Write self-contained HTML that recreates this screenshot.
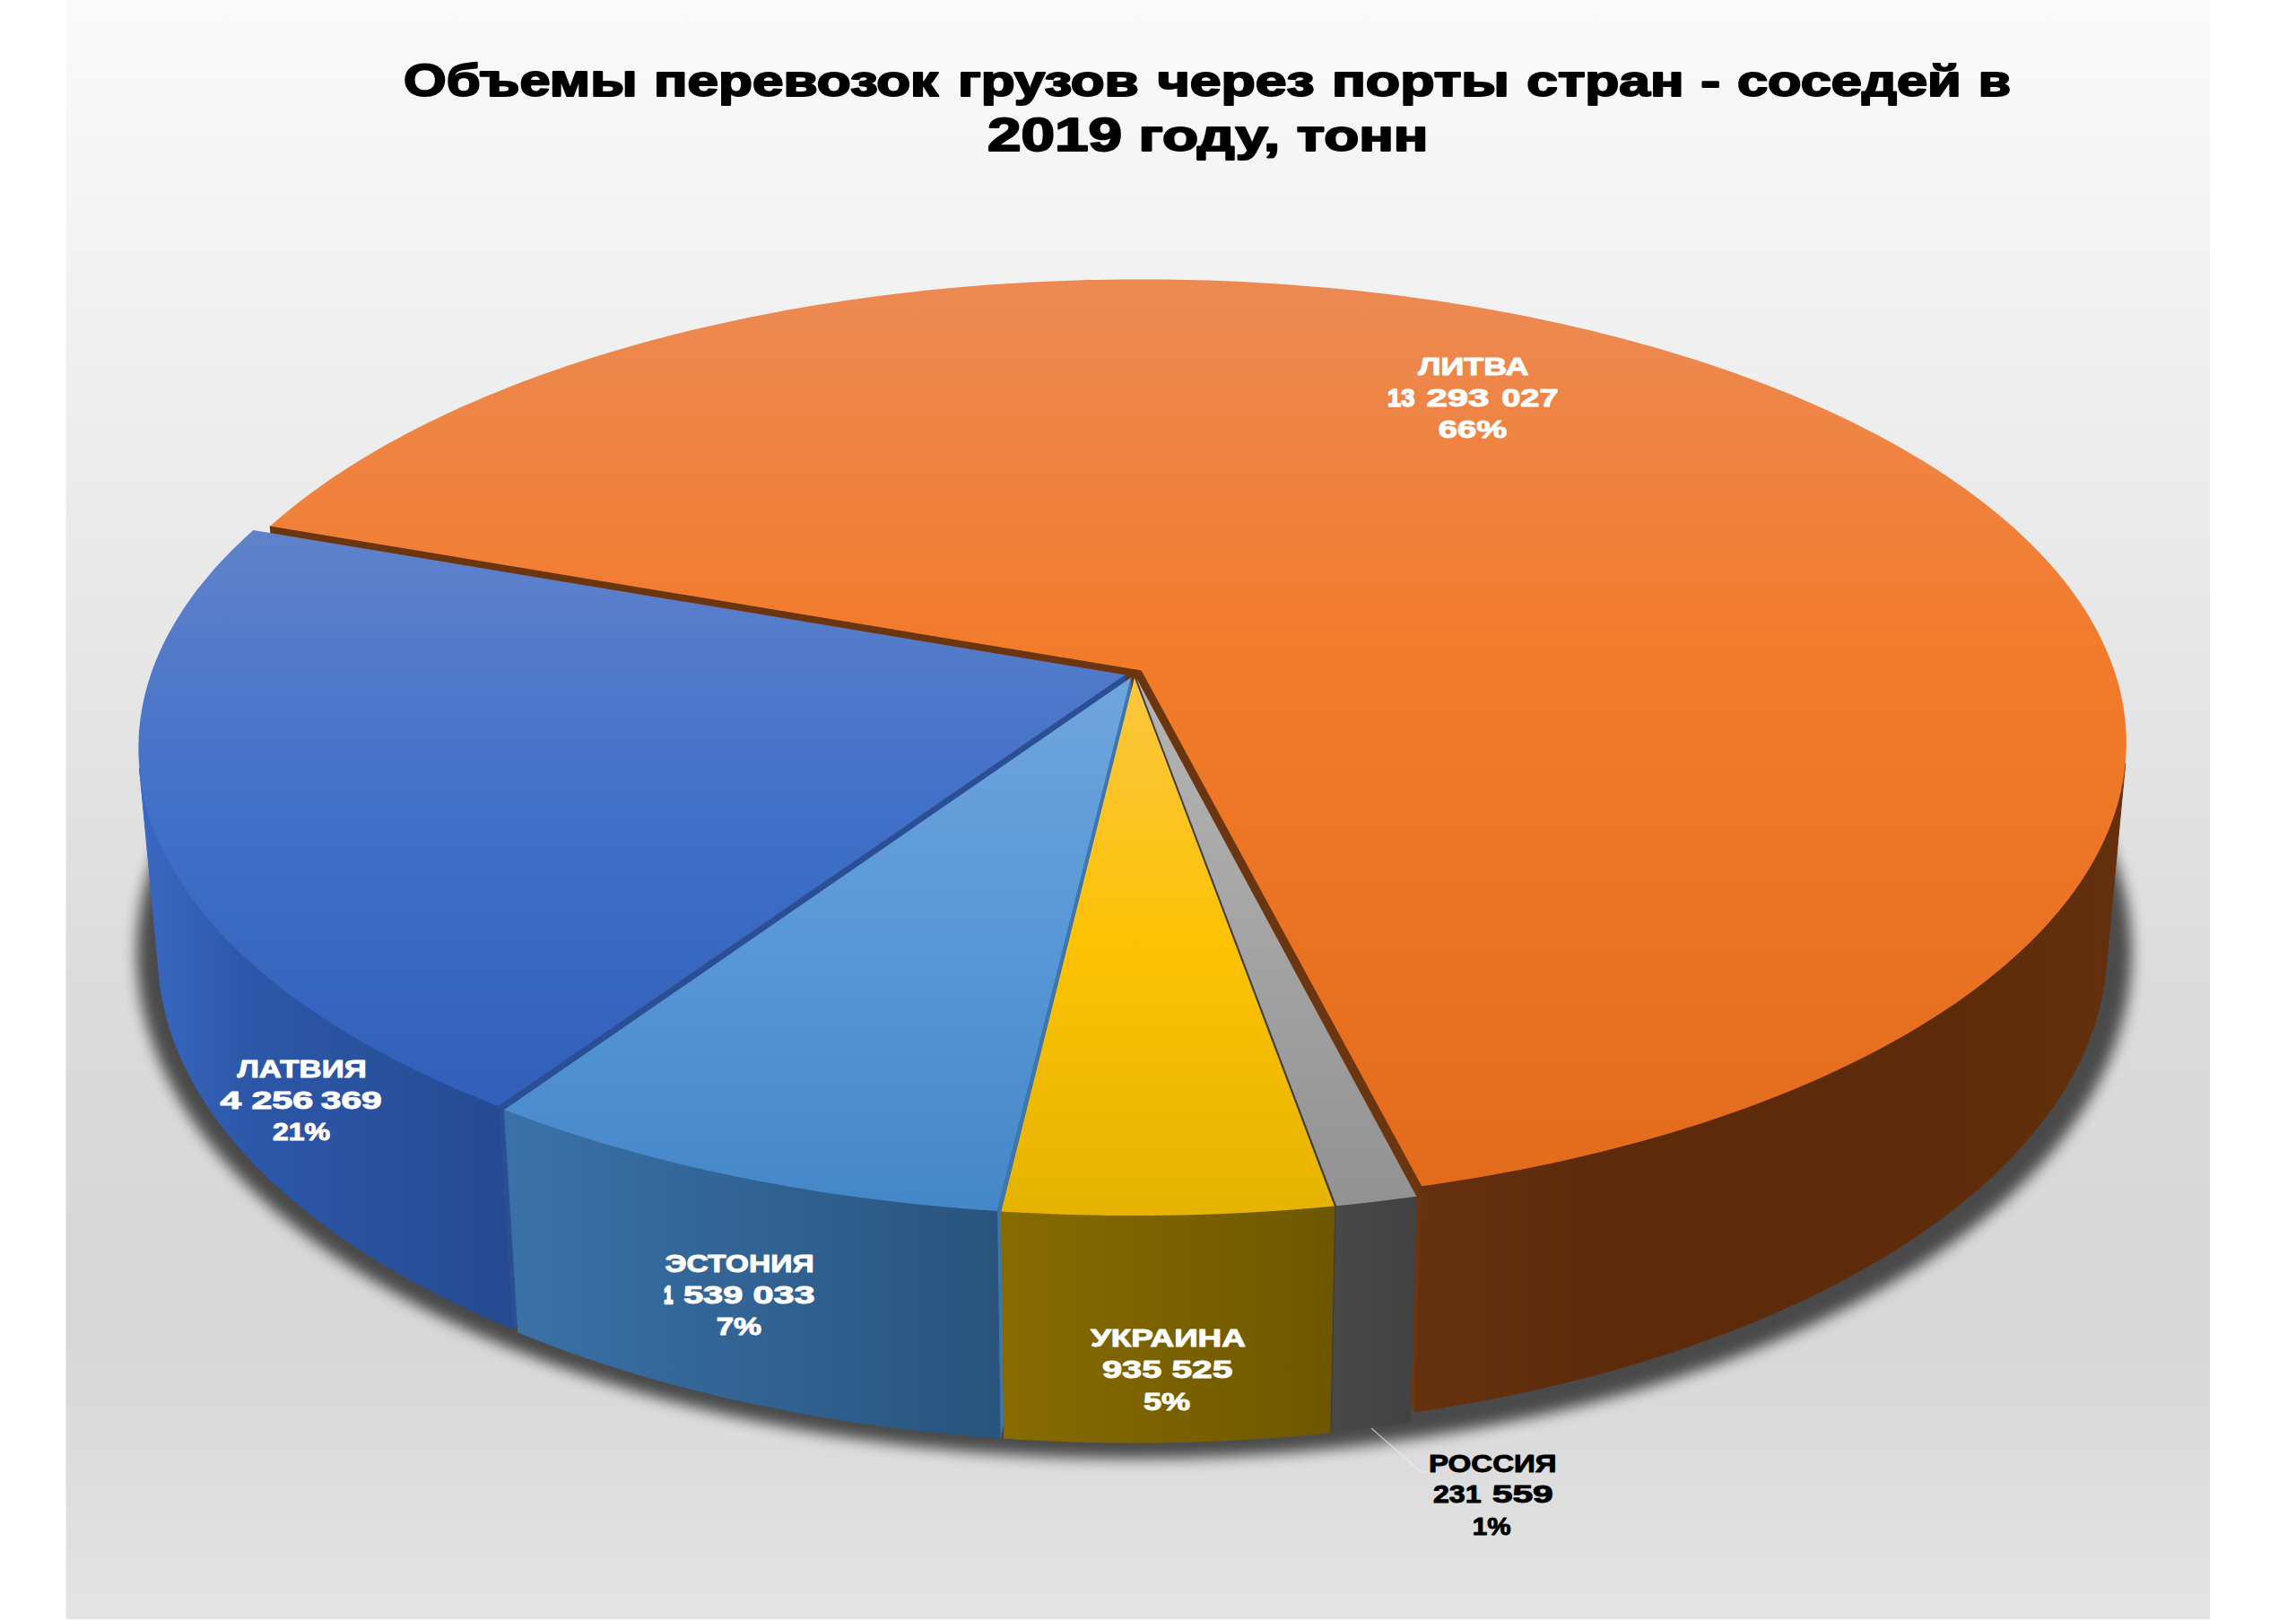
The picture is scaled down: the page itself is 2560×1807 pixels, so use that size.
<!DOCTYPE html>
<html lang="ru"><head><meta charset="utf-8"><title>Объемы перевозок грузов</title>
<style>
html,body{margin:0;padding:0;background:#fff;}
body{width:2560px;height:1807px;overflow:hidden;}
svg{display:block;}
text{font-family:"Liberation Sans",sans-serif;font-weight:bold;white-space:pre;}
</style></head><body>
<svg width="2560" height="1807" viewBox="0 0 2560 1807">
<defs>
<linearGradient id="bg" x1="0" y1="0" x2="0" y2="1"><stop offset="0" stop-color="#FAFAFA"/><stop offset="0.45" stop-color="#E4E4E4"/><stop offset="0.62" stop-color="#DBDBDB"/><stop offset="0.74" stop-color="#D8D8D8"/><stop offset="0.82" stop-color="#D7D7D7"/><stop offset="0.9" stop-color="#DCDCDC"/><stop offset="1" stop-color="#E4E4E4"/></linearGradient>
<linearGradient id="t_lith" gradientUnits="userSpaceOnUse" x1="0" y1="311.4" x2="0" y2="1322.2"><stop offset="0" stop-color="#EC8A54"/><stop offset="0.4" stop-color="#F27B2C"/><stop offset="1" stop-color="#E36B1C"/></linearGradient>
<linearGradient id="w_lith" gradientUnits="userSpaceOnUse" x1="1575.0" y1="0" x2="2372.0" y2="0"><stop offset="0" stop-color="#66310F"/><stop offset="0.3" stop-color="#5D2B0A"/><stop offset="0.75" stop-color="#5E2C0A"/><stop offset="1" stop-color="#64300D"/></linearGradient>
<linearGradient id="t_lat" gradientUnits="userSpaceOnUse" x1="0" y1="591.0" x2="0" y2="1233.0"><stop offset="0" stop-color="#6082CB"/><stop offset="0.5" stop-color="#4070C8"/><stop offset="1" stop-color="#315FB9"/></linearGradient>
<linearGradient id="w_lat" gradientUnits="userSpaceOnUse" x1="155.5" y1="0" x2="571.3" y2="0"><stop offset="0" stop-color="#3A69C2"/><stop offset="0.3" stop-color="#2C57A8"/><stop offset="1" stop-color="#254A92"/></linearGradient>
<linearGradient id="t_est" gradientUnits="userSpaceOnUse" x1="0" y1="755.4" x2="0" y2="1349.9"><stop offset="0" stop-color="#6FA5DD"/><stop offset="0.5" stop-color="#5897D8"/><stop offset="1" stop-color="#4487C9"/></linearGradient>
<linearGradient id="w_est" gradientUnits="userSpaceOnUse" x1="562.4" y1="0" x2="1115.0" y2="0"><stop offset="0" stop-color="#3A72A8"/><stop offset="1" stop-color="#28547E"/></linearGradient>
<linearGradient id="t_rus" gradientUnits="userSpaceOnUse" x1="0" y1="755.6" x2="0" y2="1344.2"><stop offset="0" stop-color="#B4B4B4"/><stop offset="0.5" stop-color="#A4A4A4"/><stop offset="1" stop-color="#929292"/></linearGradient>
<linearGradient id="w_rus" gradientUnits="userSpaceOnUse" x1="1485.0" y1="0" x2="1579.4" y2="0"><stop offset="0" stop-color="#484848"/><stop offset="1" stop-color="#424242"/></linearGradient>
<linearGradient id="t_ukr" gradientUnits="userSpaceOnUse" x1="0" y1="755.7" x2="0" y2="1355.1"><stop offset="0" stop-color="#FBC640"/><stop offset="0.5" stop-color="#FDC204"/><stop offset="1" stop-color="#E5B300"/></linearGradient>
<linearGradient id="w_ukr" gradientUnits="userSpaceOnUse" x1="1116.4" y1="0" x2="1487.8" y2="0"><stop offset="0" stop-color="#866C00"/><stop offset="1" stop-color="#6E5700"/></linearGradient>
<filter id="blur" x="-5%" y="-10%" width="110%" height="120%"><feGaussianBlur stdDeviation="8"/></filter>
</defs>
<rect x="0" y="0" width="2560" height="1807" fill="#fff"/>
<rect x="73.5" y="0" width="2390.5" height="1805" fill="url(#bg)"/>
<g filter="url(#blur)" opacity="0.66"><polygon points="2346.8,976.3 2344.0,967.9 2341.0,959.6 2337.8,951.3 2334.3,943.0 2330.5,934.8 2326.5,926.6 2322.3,918.5 2317.8,910.4 2313.1,902.4 2308.2,894.5 2303.0,886.6 2297.7,878.7 2292.0,871.0 2286.2,863.2 2280.2,855.6 2273.9,848.0 2267.4,840.5 2260.7,833.0 2253.8,825.6 2246.7,818.3 2239.4,811.0 2232.0,803.8 2224.3,796.7 2216.4,789.7 2208.3,782.7 2200.0,775.8 2191.6,769.0 2183.0,762.2 2174.2,755.6 2165.2,749.0 2156.1,742.5 2146.7,736.1 2137.3,729.7 2127.6,723.4 2117.8,717.3 2107.8,711.2 2097.7,705.1 2087.4,699.2 2077.0,693.4 2066.4,687.6 2055.7,681.9 2044.9,676.3 2033.9,670.8 2022.8,665.4 2011.5,660.1 2000.1,654.9 1988.6,649.7 1976.9,644.7 1965.2,639.7 1953.3,634.8 1941.3,630.0 1929.1,625.3 1916.9,620.7 1904.6,616.2 1892.1,611.8 1879.6,607.5 1866.9,603.3 1854.2,599.1 1841.3,595.1 1828.4,591.1 1815.3,587.3 1802.2,583.5 1789.0,579.9 1775.7,576.3 1762.3,572.8 1748.9,569.4 1735.3,566.2 1721.7,563.0 1708.0,559.9 1694.3,556.9 1680.5,554.0 1666.6,551.2 1652.6,548.5 1638.6,545.9 1624.6,543.4 1610.5,541.0 1596.3,538.7 1582.1,536.5 1567.8,534.4 1553.5,532.4 1539.1,530.5 1524.7,528.7 1510.3,527.0 1495.8,525.4 1481.3,523.8 1466.8,522.4 1452.2,521.1 1437.6,519.9 1422.9,518.8 1408.3,517.7 1393.6,516.8 1378.9,516.0 1364.2,515.3 1349.5,514.7 1334.7,514.1 1320.0,513.7 1305.2,513.4 1290.5,513.2 1275.7,513.0 1260.9,513.0 1246.2,513.1 1231.4,513.3 1216.6,513.5 1201.9,513.9 1187.1,514.4 1172.4,515.0 1157.7,515.6 1143.0,516.4 1128.3,517.3 1113.6,518.2 1099.0,519.3 1084.4,520.5 1069.8,521.8 1055.2,523.1 1040.7,524.6 1026.2,526.2 1011.7,527.8 997.3,529.6 982.9,531.4 968.6,533.4 954.3,535.5 940.1,537.6 925.9,539.9 911.7,542.2 897.6,544.7 883.6,547.2 869.6,549.9 855.7,552.6 841.9,555.5 828.1,558.4 814.4,561.4 800.7,564.6 787.2,567.8 773.7,571.1 760.2,574.5 746.9,578.1 733.6,581.7 720.5,585.4 707.4,589.2 694.4,593.1 681.5,597.1 668.7,601.2 656.0,605.4 643.4,609.6 630.9,614.0 618.5,618.5 606.2,623.0 594.0,627.7 582.0,632.4 570.0,637.2 558.2,642.2 546.5,647.2 534.9,652.3 523.4,657.5 512.1,662.7 500.9,668.1 489.9,673.6 478.9,679.1 468.1,684.8 457.5,690.5 447.0,696.3 436.7,702.2 426.5,708.1 416.4,714.2 406.5,720.3 396.8,726.6 387.2,732.9 377.8,739.3 368.6,745.7 359.5,752.3 350.6,758.9 341.9,765.6 333.4,772.4 325.1,779.2 316.9,786.2 308.9,793.2 301.1,800.3 293.5,807.4 286.1,814.6 278.9,821.9 271.9,829.3 265.2,836.7 258.6,844.2 252.2,851.8 246.0,859.4 240.1,867.1 234.4,874.8 228.9,882.7 223.6,890.5 218.6,898.5 213.7,906.4 209.2,914.5 204.8,922.6 200.7,930.7 196.8,938.9 193.2,947.1 189.8,955.4 186.7,963.8 183.8,972.1 181.2,980.6 178.9,989.0 176.7,997.5 174.9,1006.0 173.3,1014.6 172.0,1023.2 171.0,1031.8 170.2,1040.5 169.7,1049.2 169.5,1057.9 169.5,1066.6 169.9,1075.4 170.5,1084.1 171.4,1092.9 172.6,1101.7 174.0,1110.5 175.8,1119.3 177.8,1128.2 180.2,1137.0 182.8,1145.8 185.8,1154.6 189.0,1163.5 192.5,1172.3 196.3,1181.1 200.5,1189.9 204.9,1198.6 209.6,1207.4 214.6,1216.2 220.0,1224.9 225.6,1233.6 231.5,1242.2 237.8,1250.9 244.3,1259.5 251.1,1268.0 258.3,1276.6 265.8,1285.0 273.5,1293.5 281.6,1301.9 289.9,1310.2 298.6,1318.5 307.6,1326.7 316.8,1334.9 326.4,1343.0 336.3,1351.0 346.4,1359.0 356.9,1366.9 367.7,1374.7 378.7,1382.4 390.0,1390.1 401.7,1397.7 413.6,1405.1 425.7,1412.5 438.2,1419.8 451.0,1427.0 464.0,1434.1 477.3,1441.1 490.8,1448.0 504.7,1454.8 518.8,1461.5 533.1,1468.0 547.7,1474.4 562.6,1480.8 577.7,1487.0 593.0,1493.0 608.6,1499.0 624.4,1504.8 640.4,1510.4 656.7,1516.0 673.2,1521.4 689.9,1526.6 706.8,1531.7 723.9,1536.7 741.2,1541.5 758.7,1546.1 776.4,1550.6 794.2,1555.0 812.3,1559.2 830.5,1563.2 848.8,1567.1 867.4,1570.8 886.0,1574.3 904.8,1577.7 923.8,1580.9 942.9,1583.9 962.0,1586.8 981.4,1589.4 1000.8,1591.9 1020.3,1594.3 1039.9,1596.4 1059.6,1598.4 1079.4,1600.2 1099.2,1601.8 1119.1,1603.2 1139.1,1604.5 1159.1,1605.5 1179.1,1606.4 1199.2,1607.1 1219.3,1607.6 1239.5,1607.9 1259.6,1608.1 1279.7,1608.0 1299.9,1607.8 1320.0,1607.4 1340.1,1606.8 1360.1,1606.0 1380.2,1605.0 1400.2,1603.9 1420.1,1602.5 1440.0,1601.0 1459.8,1599.3 1479.5,1597.4 1499.2,1595.4 1518.7,1593.1 1538.2,1590.7 1557.6,1588.1 1576.8,1585.4 1596.0,1582.4 1615.0,1579.3 1633.8,1576.0 1652.6,1572.6 1671.2,1568.9 1689.6,1565.2 1707.9,1561.2 1726.0,1557.1 1744.0,1552.8 1761.7,1548.4 1779.3,1543.8 1796.7,1539.1 1813.9,1534.2 1831.0,1529.2 1847.8,1524.0 1864.3,1518.7 1880.7,1513.2 1896.9,1507.6 1912.8,1501.9 1928.5,1496.0 1944.0,1490.0 1959.2,1483.9 1974.2,1477.6 1988.9,1471.2 2003.4,1464.8 2017.6,1458.1 2031.5,1451.4 2045.2,1444.6 2058.7,1437.6 2071.8,1430.6 2084.7,1423.4 2097.3,1416.2 2109.6,1408.8 2121.7,1401.4 2133.4,1393.9 2144.9,1386.3 2156.1,1378.6 2167.0,1370.8 2177.6,1362.9 2187.9,1355.0 2197.9,1347.0 2207.7,1338.9 2217.1,1330.8 2226.2,1322.6 2235.0,1314.4 2243.5,1306.0 2251.7,1297.7 2259.7,1289.3 2267.3,1280.8 2274.6,1272.3 2281.6,1263.8 2288.3,1255.2 2294.7,1246.6 2300.7,1237.9 2306.5,1229.2 2312.0,1220.5 2317.2,1211.8 2322.1,1203.0 2326.6,1194.3 2330.9,1185.5 2334.9,1176.7 2338.5,1167.9 2341.9,1159.0 2345.0,1150.2 2347.8,1141.4 2350.3,1132.6 2352.5,1123.7 2354.4,1114.9 2356.0,1106.1 2357.3,1097.3 2358.4,1088.5 2359.1,1079.7 2359.6,1071.0 2359.8,1062.2 2359.7,1053.5 2359.3,1044.8 2358.7,1036.2 2357.8,1027.5 2356.6,1018.9 2355.2,1010.3 2353.5,1001.8 2351.5,993.3 2349.2,984.8 2346.8,976.3" fill="#000" stroke="#000" stroke-width="34" stroke-linejoin="round" transform="translate(0,1)"/></g>
<polygon points="1272.6,747.4 301.2,586.5 318.7,803.9 1272.5,972.8" fill="#6B350F" stroke="#6B350F" stroke-width="1" stroke-linejoin="round"/>
<polygon points="1272.6,747.4 1585.2,1322.2 1578.0,1573.8 1272.5,972.8" fill="#6B350F" stroke="#6B350F" stroke-width="1" stroke-linejoin="round"/>
<polygon points="1585.2,1322.2 1601.3,1319.9 1617.4,1317.5 1633.3,1314.9 1649.2,1312.3 1665.0,1309.5 1680.6,1306.6 1696.2,1303.7 1711.6,1300.6 1727.0,1297.4 1742.2,1294.1 1757.3,1290.7 1772.2,1287.1 1787.1,1283.5 1801.8,1279.8 1816.3,1276.0 1830.7,1272.1 1845.0,1268.0 1859.2,1263.9 1873.1,1259.7 1887.0,1255.4 1900.6,1251.0 1914.1,1246.5 1927.5,1241.9 1940.7,1237.3 1953.7,1232.5 1966.5,1227.7 1979.2,1222.8 1991.7,1217.8 2004.0,1212.7 2016.2,1207.5 2028.1,1202.3 2039.9,1196.9 2051.5,1191.6 2062.9,1186.1 2074.1,1180.6 2085.1,1175.0 2096.0,1169.3 2106.6,1163.6 2117.0,1157.8 2127.2,1151.9 2137.3,1146.0 2147.1,1140.0 2156.7,1133.9 2166.2,1127.9 2175.4,1121.7 2184.4,1115.5 2193.2,1109.3 2201.8,1103.0 2210.1,1096.6 2218.3,1090.2 2226.3,1083.8 2234.0,1077.3 2241.5,1070.8 2248.9,1064.2 2256.0,1057.7 2262.8,1051.0 2269.5,1044.4 2276.0,1037.7 2282.2,1031.0 2288.3,1024.2 2294.1,1017.4 2299.7,1010.6 2305.1,1003.8 2310.2,997.0 2315.2,990.1 2319.9,983.2 2324.4,976.3 2328.7,969.4 2332.8,962.5 2336.7,955.5 2340.4,948.6 2343.8,941.6 2347.1,934.7 2350.1,927.7 2352.9,920.7 2355.5,913.7 2357.9,906.7 2360.1,899.7 2362.1,892.8 2363.9,885.8 2365.5,878.8 2366.8,871.8 2368.0,864.8 2369.0,857.9 2369.7,850.9 2348.0,1081.4 2347.2,1088.7 2346.2,1096.0 2345.0,1103.3 2343.6,1110.6 2342.0,1117.9 2340.2,1125.2 2338.3,1132.5 2336.1,1139.8 2333.7,1147.2 2331.1,1154.5 2328.3,1161.8 2325.2,1169.1 2322.0,1176.4 2318.6,1183.7 2315.0,1190.9 2311.1,1198.2 2307.1,1205.4 2302.8,1212.7 2298.3,1219.9 2293.6,1227.1 2288.7,1234.3 2283.6,1241.4 2278.3,1248.6 2272.8,1255.7 2267.1,1262.8 2261.1,1269.8 2255.0,1276.8 2248.6,1283.8 2242.0,1290.8 2235.3,1297.7 2228.3,1304.6 2221.1,1311.5 2213.6,1318.3 2206.0,1325.0 2198.2,1331.8 2190.2,1338.4 2181.9,1345.1 2173.5,1351.6 2164.9,1358.2 2156.0,1364.6 2147.0,1371.1 2137.7,1377.4 2128.3,1383.7 2118.6,1390.0 2108.8,1396.2 2098.7,1402.3 2088.5,1408.3 2078.1,1414.3 2067.4,1420.2 2056.6,1426.1 2045.6,1431.9 2034.5,1437.6 2023.1,1443.2 2011.6,1448.7 1999.8,1454.2 1987.9,1459.6 1975.9,1464.9 1963.6,1470.1 1951.2,1475.3 1938.6,1480.3 1925.9,1485.3 1912.9,1490.1 1899.9,1494.9 1886.6,1499.6 1873.3,1504.2 1859.7,1508.7 1846.0,1513.1 1832.2,1517.4 1818.2,1521.5 1804.1,1525.6 1789.9,1529.6 1775.5,1533.5 1761.0,1537.3 1746.3,1540.9 1731.6,1544.5 1716.7,1547.9 1701.7,1551.3 1686.6,1554.5 1671.4,1557.6 1656.0,1560.6 1640.6,1563.5 1625.1,1566.2 1609.5,1568.9 1593.8,1571.4 1578.0,1573.8" fill="url(#w_lith)" stroke="url(#w_lith)" stroke-width="1" stroke-linejoin="round"/>
<polygon points="1272.6,747.4 301.2,586.5 307.5,580.9 314.0,575.4 320.7,569.9 327.4,564.4 334.3,559.1 341.3,553.7 348.4,548.4 355.7,543.2 363.1,538.0 370.5,532.8 378.2,527.7 385.9,522.7 393.7,517.7 401.7,512.8 409.8,507.9 418.0,503.1 426.3,498.3 434.7,493.6 443.2,488.9 451.8,484.3 460.5,479.8 469.3,475.3 478.2,470.8 487.3,466.4 496.4,462.1 505.6,457.8 514.9,453.6 524.3,449.5 533.7,445.4 543.3,441.3 553.0,437.4 562.7,433.4 572.5,429.6 582.4,425.8 592.4,422.0 602.5,418.3 612.6,414.7 622.9,411.2 633.2,407.6 643.5,404.2 654.0,400.8 664.5,397.5 675.1,394.2 685.7,391.0 696.4,387.9 707.2,384.8 718.1,381.8 729.0,378.8 739.9,375.9 750.9,373.1 762.0,370.3 773.2,367.6 784.4,365.0 795.6,362.4 806.9,359.9 818.3,357.4 829.7,355.0 841.1,352.7 852.6,350.5 864.1,348.2 875.7,346.1 887.3,344.0 899.0,342.0 910.7,340.1 922.4,338.2 934.2,336.4 946.0,334.6 957.9,332.9 969.8,331.3 981.7,329.7 993.6,328.2 1005.6,326.8 1017.6,325.4 1029.6,324.1 1041.7,322.8 1053.8,321.7 1065.9,320.5 1078.0,319.5 1090.1,318.5 1102.3,317.6 1114.5,316.7 1126.7,315.9 1138.9,315.2 1151.1,314.5 1163.3,313.9 1175.6,313.4 1187.8,312.9 1200.1,312.5 1212.4,312.1 1224.7,311.9 1237.0,311.7 1249.2,311.5 1261.5,311.4 1273.8,311.4 1286.1,311.4 1298.4,311.6 1310.7,311.7 1323.0,312.0 1335.3,312.3 1347.5,312.6 1359.8,313.1 1372.1,313.6 1384.3,314.1 1396.5,314.8 1408.8,315.4 1421.0,316.2 1433.2,317.0 1445.3,317.9 1457.5,318.9 1469.6,319.9 1481.8,320.9 1493.9,322.1 1505.9,323.3 1518.0,324.6 1530.0,325.9 1542.0,327.3 1554.0,328.8 1565.9,330.3 1577.8,331.9 1589.7,333.5 1601.6,335.2 1613.4,337.0 1625.1,338.9 1636.9,340.8 1648.6,342.8 1660.2,344.8 1671.9,346.9 1683.4,349.1 1695.0,351.3 1706.5,353.6 1717.9,355.9 1729.3,358.4 1740.6,360.8 1751.9,363.4 1763.2,366.0 1774.3,368.6 1785.5,371.4 1796.6,374.2 1807.6,377.0 1818.5,379.9 1829.4,382.9 1840.3,386.0 1851.0,389.1 1861.7,392.2 1872.4,395.4 1882.9,398.7 1893.4,402.1 1903.9,405.5 1914.2,408.9 1924.5,412.5 1934.7,416.1 1944.9,419.7 1954.9,423.4 1964.9,427.2 1974.8,431.0 1984.6,434.9 1994.3,438.8 2004.0,442.8 2013.5,446.9 2023.0,451.0 2032.4,455.2 2041.7,459.4 2050.9,463.7 2060.0,468.1 2069.0,472.5 2077.9,476.9 2086.7,481.5 2095.4,486.0 2104.0,490.7 2112.5,495.3 2120.8,500.1 2129.1,504.9 2137.3,509.7 2145.3,514.6 2153.3,519.6 2161.1,524.6 2168.8,529.6 2176.4,534.7 2183.9,539.9 2191.3,545.1 2198.5,550.4 2205.6,555.7 2212.6,561.1 2219.5,566.5 2226.2,571.9 2232.8,577.4 2239.2,583.0 2245.6,588.6 2251.8,594.2 2257.8,599.9 2263.8,605.7 2269.5,611.5 2275.2,617.3 2280.7,623.2 2286.0,629.1 2291.2,635.0 2296.3,641.0 2301.2,647.1 2305.9,653.1 2310.5,659.3 2314.9,665.4 2319.2,671.6 2323.3,677.8 2327.3,684.1 2331.1,690.4 2334.7,696.8 2338.2,703.1 2341.5,709.5 2344.6,716.0 2347.6,722.4 2350.4,728.9 2353.0,735.5 2355.5,742.0 2357.8,748.6 2359.8,755.2 2361.8,761.8 2363.5,768.5 2365.1,775.2 2366.4,781.9 2367.6,788.6 2368.6,795.4 2369.4,802.1 2370.1,808.9 2370.5,815.7 2370.8,822.5 2370.8,829.4 2370.7,836.2 2370.3,843.1 2369.8,850.0 2369.1,856.8 2368.2,863.7 2367.1,870.6 2365.7,877.5 2364.2,884.4 2362.5,891.4 2360.6,898.3 2358.4,905.2 2356.1,912.1 2353.6,919.0 2350.8,925.9 2347.9,932.8 2344.7,939.7 2341.4,946.6 2337.8,953.5 2334.0,960.4 2330.0,967.3 2325.8,974.1 2321.4,981.0 2316.8,987.8 2312.0,994.6 2306.9,1001.4 2301.7,1008.1 2296.2,1014.9 2290.5,1021.6 2284.7,1028.3 2278.6,1034.9 2272.3,1041.6 2265.7,1048.2 2259.0,1054.7 2252.1,1061.3 2244.9,1067.8 2237.6,1074.3 2230.0,1080.7 2222.2,1087.1 2214.2,1093.4 2206.1,1099.7 2197.7,1106.0 2189.1,1112.2 2180.3,1118.4 2171.2,1124.5 2162.0,1130.5 2152.6,1136.6 2143.0,1142.5 2133.2,1148.4 2123.2,1154.2 2113.0,1160.0 2102.6,1165.7 2092.0,1171.4 2081.2,1177.0 2070.2,1182.5 2059.1,1188.0 2047.7,1193.3 2036.2,1198.7 2024.5,1203.9 2012.6,1209.1 2000.5,1214.2 1988.2,1219.2 1975.8,1224.1 1963.2,1229.0 1950.5,1233.7 1937.5,1238.4 1924.4,1243.0 1911.2,1247.5 1897.8,1251.9 1884.2,1256.3 1870.5,1260.5 1856.6,1264.7 1842.6,1268.7 1828.4,1272.7 1814.1,1276.6 1799.7,1280.3 1785.1,1284.0 1770.4,1287.6 1755.6,1291.0 1740.7,1294.4 1725.6,1297.7 1710.4,1300.8 1695.1,1303.9 1679.7,1306.8 1664.2,1309.7 1648.6,1312.4 1632.9,1315.0 1617.1,1317.5 1601.2,1319.9 1585.2,1322.2" fill="url(#t_lith)" />
<polygon points="1254.4,752.3 555.7,1233.0 571.3,1480.8 1254.6,978.0" fill="#2A4F94" stroke="#2A4F94" stroke-width="1" stroke-linejoin="round"/>
<polygon points="155.5,856.5 156.2,863.5 157.2,870.4 158.4,877.4 159.7,884.4 161.3,891.3 163.1,898.3 165.0,905.3 167.2,912.2 169.6,919.2 172.2,926.2 175.0,933.1 178.0,940.1 181.2,947.1 184.7,954.0 188.3,961.0 192.2,967.9 196.2,974.8 200.5,981.7 205.0,988.6 209.7,995.5 214.6,1002.3 219.7,1009.2 225.1,1016.0 230.6,1022.8 236.4,1029.5 242.4,1036.3 248.6,1043.0 255.0,1049.6 261.6,1056.3 268.5,1062.9 275.5,1069.5 282.8,1076.0 290.3,1082.6 297.9,1089.0 305.8,1095.4 313.9,1101.8 322.3,1108.2 330.8,1114.5 339.5,1120.7 348.5,1126.9 357.6,1133.1 366.9,1139.2 376.5,1145.2 386.3,1151.2 396.2,1157.1 406.4,1163.0 416.7,1168.8 427.3,1174.5 438.0,1180.2 448.9,1185.8 460.1,1191.3 471.4,1196.8 482.9,1202.2 494.6,1207.5 506.5,1212.8 518.5,1217.9 530.7,1223.0 543.2,1228.0 555.7,1233.0 571.3,1480.8 558.9,1475.6 546.8,1470.4 534.8,1465.1 523.0,1459.7 511.3,1454.2 499.9,1448.7 488.6,1443.0 477.5,1437.3 466.6,1431.5 455.9,1425.7 445.3,1419.8 435.0,1413.8 424.8,1407.7 414.8,1401.6 405.1,1395.4 395.5,1389.2 386.1,1382.9 376.9,1376.5 368.0,1370.1 359.2,1363.6 350.6,1357.1 342.2,1350.5 334.0,1343.9 326.1,1337.2 318.3,1330.5 310.7,1323.7 303.4,1316.9 296.2,1310.1 289.3,1303.2 282.6,1296.3 276.0,1289.4 269.7,1282.4 263.6,1275.4 257.7,1268.3 252.0,1261.2 246.5,1254.1 241.3,1247.0 236.2,1239.9 231.3,1232.7 226.7,1225.5 222.3,1218.3 218.0,1211.1 214.0,1203.9 210.2,1196.6 206.6,1189.3 203.2,1182.1 200.0,1174.8 197.0,1167.5 194.2,1160.2 191.6,1152.9 189.2,1145.6 187.0,1138.3 185.1,1131.0 183.3,1123.7 181.7,1116.4 180.3,1109.1 179.1,1101.8 178.2,1094.5 177.4,1087.3" fill="url(#w_lat)" stroke="url(#w_lat)" stroke-width="1" stroke-linejoin="round"/>
<polygon points="1254.4,752.3 555.7,1233.0 543.1,1228.0 530.7,1223.0 518.4,1217.9 506.3,1212.7 494.4,1207.4 482.6,1202.1 471.1,1196.7 459.8,1191.2 448.6,1185.6 437.6,1180.0 426.8,1174.3 416.3,1168.5 405.9,1162.7 395.7,1156.8 385.7,1150.9 375.9,1144.8 366.4,1138.8 357.0,1132.7 347.8,1126.5 338.9,1120.3 330.1,1114.0 321.6,1107.7 313.3,1101.3 305.2,1094.9 297.2,1088.4 289.6,1081.9 282.1,1075.4 274.8,1068.8 267.7,1062.2 260.9,1055.6 254.3,1048.9 247.9,1042.2 241.7,1035.5 235.7,1028.7 229.9,1021.9 224.4,1015.1 219.0,1008.3 213.9,1001.4 209.0,994.5 204.3,987.6 199.9,980.7 195.6,973.8 191.5,966.8 187.7,959.9 184.1,952.9 180.7,945.9 177.5,938.9 174.5,932.0 171.7,925.0 169.2,918.0 166.8,911.0 164.7,904.0 162.7,897.0 161.0,890.0 159.4,883.0 158.1,876.0 157.0,869.0 156.1,862.0 155.4,855.1 154.8,848.1 154.5,841.2 154.4,834.3 154.5,827.3 154.7,820.4 155.2,813.6 155.9,806.7 156.7,799.9 157.8,793.0 159.0,786.2 160.4,779.4 162.0,772.7 163.8,766.0 165.8,759.2 167.9,752.6 170.2,745.9 172.7,739.3 175.4,732.7 178.3,726.1 181.3,719.6 184.5,713.1 187.9,706.6 191.5,700.2 195.2,693.8 199.1,687.4 203.1,681.1 207.3,674.8 211.7,668.5 216.2,662.3 220.9,656.1 225.8,650.0 230.8,643.9 235.9,637.8 241.2,631.8 246.7,625.8 252.3,619.9 258.0,614.0 263.9,608.2 270.0,602.4 276.1,596.7 282.4,591.0" fill="url(#t_lat)" />
<polygon points="1260.9,755.4 1111.6,1349.9 1115.0,1602.7 1260.9,981.3" fill="#3E76AC" stroke="#3E76AC" stroke-width="1" stroke-linejoin="round"/>
<polygon points="562.4,1237.1 575.3,1242.0 588.4,1246.8 601.6,1251.6 615.0,1256.2 628.6,1260.8 642.3,1265.2 656.2,1269.6 670.2,1273.9 684.4,1278.0 698.7,1282.1 713.2,1286.1 727.8,1290.0 742.6,1293.7 757.4,1297.4 772.5,1301.0 787.6,1304.4 802.9,1307.8 818.3,1311.0 833.8,1314.2 849.4,1317.2 865.2,1320.1 881.0,1322.9 897.0,1325.6 913.0,1328.2 929.1,1330.7 945.4,1333.0 961.7,1335.2 978.1,1337.3 994.5,1339.3 1011.1,1341.2 1027.7,1343.0 1044.3,1344.6 1061.1,1346.1 1077.9,1347.5 1094.7,1348.8 1111.6,1349.9 1115.0,1602.7 1098.5,1601.5 1082.1,1600.2 1065.7,1598.7 1049.3,1597.1 1033.0,1595.4 1016.8,1593.6 1000.6,1591.6 984.5,1589.6 968.5,1587.4 952.5,1585.1 936.7,1582.6 920.9,1580.0 905.2,1577.4 889.6,1574.6 874.1,1571.6 858.7,1568.6 843.4,1565.4 828.3,1562.2 813.2,1558.8 798.3,1555.3 783.4,1551.7 768.7,1548.0 754.2,1544.1 739.7,1540.2 725.4,1536.2 711.2,1532.0 697.2,1527.8 683.3,1523.4 669.6,1519.0 656.0,1514.4 642.6,1509.8 629.3,1505.0 616.2,1500.2 603.2,1495.2 590.5,1490.2 577.8,1485.1" fill="url(#w_est)" stroke="url(#w_est)" stroke-width="1" stroke-linejoin="round"/>
<polygon points="1260.9,755.4 1111.6,1349.9 1094.7,1348.8 1077.9,1347.5 1061.1,1346.1 1044.3,1344.6 1027.7,1343.0 1011.1,1341.2 994.5,1339.3 978.1,1337.3 961.7,1335.2 945.4,1333.0 929.1,1330.7 913.0,1328.2 897.0,1325.6 881.0,1322.9 865.2,1320.1 849.4,1317.2 833.8,1314.2 818.3,1311.0 802.9,1307.8 787.6,1304.4 772.5,1301.0 757.4,1297.4 742.6,1293.7 727.8,1290.0 713.2,1286.1 698.7,1282.1 684.4,1278.0 670.2,1273.9 656.2,1269.6 642.3,1265.2 628.6,1260.8 615.0,1256.2 601.6,1251.6 588.4,1246.8 575.3,1242.0 562.4,1237.1" fill="url(#t_est)" />
<polygon points="1266.9,755.6 1490.1,1344.2 1485.0,1596.7 1266.8,981.5" fill="#3E3C34" stroke="#3E3C34" stroke-width="1" stroke-linejoin="round"/>
<polygon points="1490.1,1344.2 1508.1,1342.4 1526.0,1340.4 1543.9,1338.3 1561.7,1336.1 1579.4,1333.7 1572.3,1585.7 1555.0,1588.2 1537.6,1590.6 1520.2,1592.8 1502.6,1594.8 1485.0,1596.7" fill="url(#w_rus)" stroke="url(#w_rus)" stroke-width="1" stroke-linejoin="round"/>
<polygon points="1266.9,755.6 1579.4,1333.7 1561.7,1336.1 1543.9,1338.3 1526.0,1340.4 1508.1,1342.4 1490.1,1344.2" fill="url(#t_rus)" />
<polygon points="1116.4,1350.4 1133.2,1351.4 1150.1,1352.3 1166.9,1353.0 1183.9,1353.7 1200.8,1354.2 1217.8,1354.6 1234.8,1354.9 1251.7,1355.1 1268.7,1355.1 1285.7,1355.0 1302.7,1354.8 1319.7,1354.5 1336.6,1354.0 1353.5,1353.4 1370.5,1352.7 1387.3,1351.9 1404.2,1350.9 1421.0,1349.9 1437.8,1348.7 1454.5,1347.4 1471.2,1345.9 1487.8,1344.4 1482.8,1596.9 1466.5,1598.5 1450.2,1600.0 1433.9,1601.4 1417.5,1602.6 1401.0,1603.7 1384.6,1604.7 1368.1,1605.6 1351.5,1606.3 1335.0,1606.9 1318.4,1607.4 1301.8,1607.8 1285.2,1608.0 1268.6,1608.1 1252.0,1608.0 1235.4,1607.9 1218.8,1607.6 1202.3,1607.2 1185.7,1606.6 1169.2,1605.9 1152.6,1605.1 1136.2,1604.2 1119.7,1603.1" fill="url(#w_ukr)" stroke="url(#w_ukr)" stroke-width="1" stroke-linejoin="round"/>
<polygon points="1264.9,755.7 1487.8,1344.4 1471.2,1345.9 1454.5,1347.4 1437.8,1348.7 1421.0,1349.9 1404.2,1350.9 1387.3,1351.9 1370.5,1352.7 1353.5,1353.4 1336.6,1354.0 1319.7,1354.5 1302.7,1354.8 1285.7,1355.0 1268.7,1355.1 1251.7,1355.1 1234.8,1354.9 1217.8,1354.6 1200.8,1354.2 1183.9,1353.7 1166.9,1353.0 1150.1,1352.3 1133.2,1351.4 1116.4,1350.4" fill="url(#t_ukr)" />
<polyline points="1529,1592 1584.5,1641 1594,1641" fill="none" stroke="#f2f2f2" stroke-width="1.2" stroke-opacity="0.65"/>
<g>
<text fill="#000" stroke="#000" stroke-linejoin="round"><tspan x="450.0" y="107.0" textLength="260.5" lengthAdjust="spacingAndGlyphs" font-size="50" stroke-width="2.0">Объемы</tspan> <tspan x="729.1" y="107.0" textLength="317.1" lengthAdjust="spacingAndGlyphs" font-size="48" stroke-width="2.0">перевозок</tspan> <tspan x="1067.9" y="107.0" textLength="201.7" lengthAdjust="spacingAndGlyphs" font-size="48" stroke-width="2.0">грузов</tspan> <tspan x="1290.4" y="107.0" textLength="175.2" lengthAdjust="spacingAndGlyphs" font-size="48" stroke-width="2.0">через</tspan> <tspan x="1485.0" y="107.0" textLength="197.9" lengthAdjust="spacingAndGlyphs" font-size="48" stroke-width="2.0">порты</tspan> <tspan x="1702.3" y="107.0" textLength="175.2" lengthAdjust="spacingAndGlyphs" font-size="48" stroke-width="2.0">стран</tspan> <tspan x="1896.2" y="107.0" textLength="21.9" lengthAdjust="spacingAndGlyphs" font-size="48" stroke-width="2.0">-</tspan> <tspan x="1936.9" y="107.0" textLength="249.9" lengthAdjust="spacingAndGlyphs" font-size="48" stroke-width="2.0">соседей</tspan> <tspan x="2205.8" y="107.0" textLength="36.2" lengthAdjust="spacingAndGlyphs" font-size="48" stroke-width="2.0">в</tspan></text>
<text fill="#000" stroke="#000" stroke-linejoin="round"><tspan x="1100.9" y="168.2" textLength="150.1" lengthAdjust="spacingAndGlyphs" font-size="51" stroke-width="2.0">2019</tspan> <tspan x="1269.5" y="168.2" textLength="157.7" lengthAdjust="spacingAndGlyphs" font-size="48" stroke-width="2.0">году,</tspan> <tspan x="1445.7" y="168.2" textLength="146.7" lengthAdjust="spacingAndGlyphs" font-size="48" stroke-width="2.0">тонн</tspan></text>
<text fill="#fff" stroke="#fff" stroke-linejoin="round"><tspan x="1581.2" y="418.1" textLength="123.4" lengthAdjust="spacingAndGlyphs" font-size="28" stroke-width="1.0">ЛИТВА</tspan></text>
<text fill="#fff" stroke="#fff" stroke-linejoin="round"><tspan x="1547.0" y="453.0" textLength="30.4" lengthAdjust="spacingAndGlyphs" font-size="28" stroke-width="1.6">13</tspan> <tspan x="1590.4" y="453.0" textLength="70.0" lengthAdjust="spacingAndGlyphs" font-size="28" stroke-width="1.0">293</tspan> <tspan x="1674.2" y="453.0" textLength="63.4" lengthAdjust="spacingAndGlyphs" font-size="28" stroke-width="1.0">027</tspan></text>
<text fill="#fff" stroke="#fff" stroke-linejoin="round"><tspan x="1603.7" y="487.6" textLength="76.5" lengthAdjust="spacingAndGlyphs" font-size="28" stroke-width="1.0">66%</tspan></text>
<text fill="#fff" stroke="#fff" stroke-linejoin="round"><tspan x="264.4" y="1201.4" textLength="144.4" lengthAdjust="spacingAndGlyphs" font-size="28" stroke-width="1.0">ЛАТВИЯ</tspan></text>
<text fill="#fff" stroke="#fff" stroke-linejoin="round"><tspan x="245.5" y="1236.2" textLength="23.6" lengthAdjust="spacingAndGlyphs" font-size="28" stroke-width="1.0">4</tspan> <tspan x="280.4" y="1236.2" textLength="68.9" lengthAdjust="spacingAndGlyphs" font-size="28" stroke-width="1.0">256</tspan> <tspan x="357.8" y="1236.2" textLength="67.9" lengthAdjust="spacingAndGlyphs" font-size="28" stroke-width="1.0">369</tspan></text>
<text fill="#fff" stroke="#fff" stroke-linejoin="round"><tspan x="303.9" y="1270.9" textLength="64.2" lengthAdjust="spacingAndGlyphs" font-size="28" stroke-width="1.0">21%</tspan></text>
<text fill="#fff" stroke="#fff" stroke-linejoin="round"><tspan x="741.5" y="1418.3" textLength="166.2" lengthAdjust="spacingAndGlyphs" font-size="28" stroke-width="1.0">ЭСТОНИЯ</tspan></text>
<text fill="#fff" stroke="#fff" stroke-linejoin="round"><tspan x="740.2" y="1453.2" textLength="9.9" lengthAdjust="spacingAndGlyphs" font-size="28" stroke-width="2.6">1</tspan> <tspan x="762.0" y="1453.2" textLength="66.2" lengthAdjust="spacingAndGlyphs" font-size="28" stroke-width="1.0">539</tspan> <tspan x="839.4" y="1453.2" textLength="69.0" lengthAdjust="spacingAndGlyphs" font-size="28" stroke-width="1.0">033</tspan></text>
<text fill="#fff" stroke="#fff" stroke-linejoin="round"><tspan x="798.7" y="1488.3" textLength="50.3" lengthAdjust="spacingAndGlyphs" font-size="28" stroke-width="1.0">7%</tspan></text>
<text fill="#fff" stroke="#fff" stroke-linejoin="round"><tspan x="1215.9" y="1501.4" textLength="172.9" lengthAdjust="spacingAndGlyphs" font-size="28" stroke-width="1.0">УКРАИНА</tspan></text>
<text fill="#fff" stroke="#fff" stroke-linejoin="round"><tspan x="1229.1" y="1536.2" textLength="66.1" lengthAdjust="spacingAndGlyphs" font-size="28" stroke-width="1.0">935</tspan> <tspan x="1306.5" y="1536.2" textLength="67.8" lengthAdjust="spacingAndGlyphs" font-size="28" stroke-width="1.0">525</tspan></text>
<text fill="#fff" stroke="#fff" stroke-linejoin="round"><tspan x="1275.0" y="1571.5" textLength="52.1" lengthAdjust="spacingAndGlyphs" font-size="28" stroke-width="1.0">5%</tspan></text>
<text fill="#000" stroke="#000" stroke-linejoin="round"><tspan x="1592.9" y="1640.6" textLength="142.7" lengthAdjust="spacingAndGlyphs" font-size="28" stroke-width="1.0">РОССИЯ</tspan></text>
<text fill="#000" stroke="#000" stroke-linejoin="round"><tspan x="1597.9" y="1675.2" textLength="53.7" lengthAdjust="spacingAndGlyphs" font-size="28" stroke-width="1.0">231</tspan> <tspan x="1663.7" y="1675.2" textLength="68.1" lengthAdjust="spacingAndGlyphs" font-size="28" stroke-width="1.0">559</tspan></text>
<text fill="#000" stroke="#000" stroke-linejoin="round"><tspan x="1641.8" y="1710.9" textLength="42.8" lengthAdjust="spacingAndGlyphs" font-size="28" stroke-width="1.0">1%</tspan></text>
</g>
</svg>
</body></html>
